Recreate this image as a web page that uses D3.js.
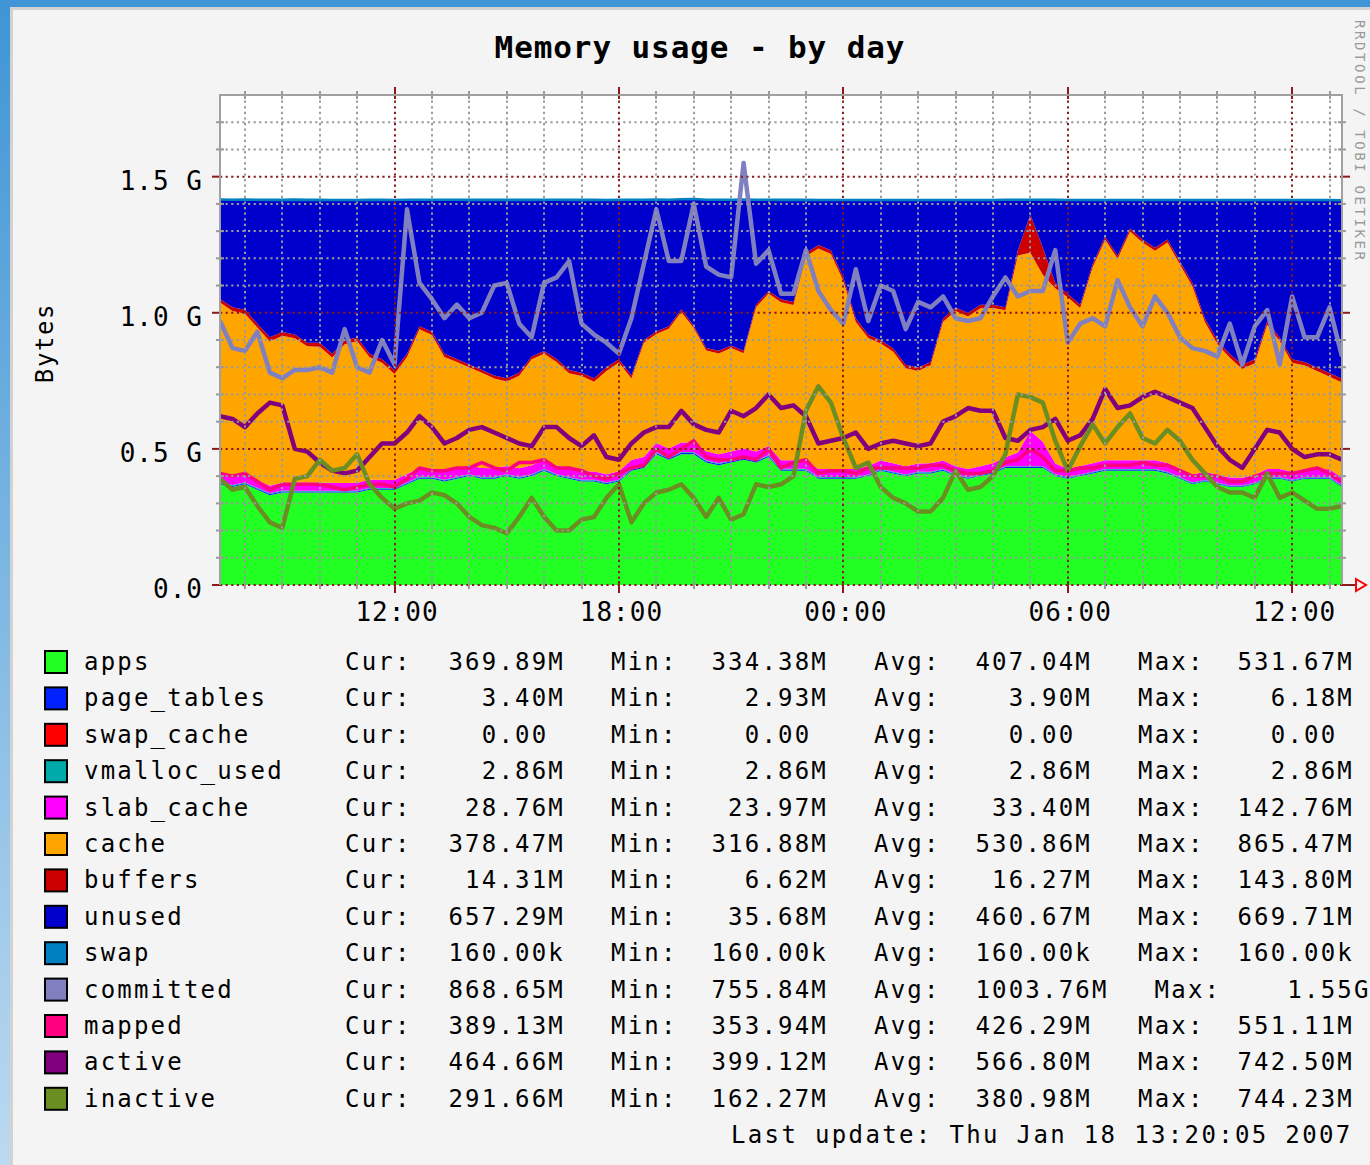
<!DOCTYPE html>
<html>
<head>
<meta charset="utf-8">
<script src="https://cdn.jsdelivr.net/npm/d3@7"></script>
<style>
  body { margin: 0; background: #fff; }
  svg { display: block; }
  text { font-family: "DejaVu Sans Mono", monospace; }
</style>
</head>
<body>
<svg id="chart"></svg>
<script>
// time axis: one sample every 20 minutes, Jan 17 07:20 -> Jan 18 13:20
const startTime = new Date(2007, 0, 17, 7, 20);
const endTime = new Date(2007, 0, 18, 13, 20);

// values in G (stacked areas)
const apps = [
  0.37,0.36,0.37,0.35,0.33,0.34,0.34,0.34,0.34,0.34,
  0.34,0.34,0.35,0.35,0.35,0.37,0.39,0.39,0.38,0.39,
  0.40,0.39,0.39,0.40,0.39,0.40,0.42,0.40,0.39,0.38,
  0.38,0.37,0.38,0.42,0.43,0.48,0.46,0.48,0.48,0.45,
  0.44,0.45,0.46,0.45,0.47,0.42,0.42,0.42,0.39,0.39,
  0.39,0.39,0.40,0.42,0.41,0.40,0.41,0.41,0.42,0.40,
  0.39,0.40,0.41,0.43,0.43,0.43,0.43,0.40,0.39,0.40,
  0.41,0.42,0.42,0.42,0.42,0.42,0.41,0.39,0.37,0.38,
  0.37,0.36,0.36,0.37,0.39,0.39,0.38,0.39,0.39,0.39,
  0.36];
const pageTables = [
  .0042,.0041,.0040,.0040,.0039,.0039,.0038,.0038,.0038,.0037,
  .0037,.0037,.0038,.0038,.0037,.0040,.0044,.0042,.0041,.0040,
  .0039,.0039,.0038,.0038,.0038,.0039,.0041,.0040,.0039,.0038,
  .0038,.0037,.0038,.0041,.0043,.0052,.0047,.0055,.0060,.0046,
  .0043,.0044,.0048,.0042,.0041,.0039,.0038,.0038,.0036,.0035,
  .0035,.0034,.0034,.0035,.0034,.0033,.0033,.0033,.0034,.0034,
  .0034,.0034,.0035,.0036,.0037,.0038,.0037,.0036,.0035,.0035,
  .0036,.0036,.0036,.0036,.0036,.0035,.0035,.0034,.0033,.0033,
  .0032,.0031,.0030,.0031,.0033,.0034,.0034,.0034,.0034,.0034,
  .0033];
const swapCache = [
  0,0,0,0,0,0,0,0,0,0, 0,0,0,0,0,0,0,0,0,0, 0,0,0,0,0,0,0,0,0,0,
  0,0,0,0,0,0,0,0,0,0, 0,0,0,0,0,0,0,0,0,0, 0,0,0,0,0,0,0,0,0,0,
  0,0,0,0,0,0,0,0,0,0, 0,0,0,0,0,0,0,0,0,0, 0,0,0,0,0,0,0,0,0,0,
  0];
const vmallocUsed = [
  .0028,.0028,.0028,.0028,.0028,.0028,.0028,.0028,.0028,.0028,
  .0028,.0028,.0028,.0028,.0028,.0028,.0028,.0028,.0028,.0028,
  .0028,.0028,.0028,.0028,.0028,.0028,.0028,.0028,.0028,.0028,
  .0028,.0028,.0028,.0028,.0028,.0028,.0028,.0028,.0028,.0028,
  .0028,.0028,.0028,.0028,.0028,.0028,.0028,.0028,.0028,.0028,
  .0028,.0028,.0028,.0028,.0028,.0028,.0028,.0028,.0028,.0028,
  .0028,.0028,.0028,.0028,.0028,.0028,.0028,.0028,.0028,.0028,
  .0028,.0028,.0028,.0028,.0028,.0028,.0028,.0028,.0028,.0028,
  .0028,.0028,.0028,.0028,.0028,.0028,.0028,.0028,.0028,.0028,
  .0028];
const slabCache = [
  0.031,0.030,0.030,0.029,0.028,0.029,0.030,0.030,0.029,0.029,
  0.028,0.029,0.030,0.030,0.029,0.031,0.032,0.031,0.031,0.032,
  0.032,0.033,0.032,0.031,0.032,0.033,0.033,0.032,0.031,0.031,
  0.030,0.030,0.031,0.032,0.033,0.034,0.034,0.035,0.035,0.034,
  0.033,0.033,0.034,0.033,0.034,0.032,0.032,0.031,0.030,0.030,
  0.030,0.030,0.031,0.031,0.031,0.030,0.030,0.031,0.031,0.030,
  0.030,0.030,0.031,0.033,0.050,0.130,0.090,0.040,0.031,0.031,
  0.031,0.032,0.032,0.032,0.032,0.032,0.032,0.031,0.030,0.030,
  0.029,0.029,0.028,0.029,0.030,0.030,0.030,0.030,0.030,0.029,
  0.028];
const cache = [
  0.63,0.61,0.59,0.56,0.53,0.54,0.53,0.50,0.50,0.46,
  0.51,0.52,0.45,0.43,0.39,0.43,0.51,0.49,0.42,0.39,
  0.36,0.35,0.33,0.31,0.34,0.39,0.39,0.38,0.35,0.35,
  0.33,0.38,0.40,0.30,0.42,0.40,0.44,0.48,0.42,0.37,
  0.37,0.38,0.35,0.53,0.56,0.58,0.57,0.75,0.81,0.79,
  0.69,0.54,0.47,0.43,0.41,0.36,0.34,0.36,0.51,0.57,
  0.56,0.58,0.57,0.54,0.7235,0.6535,0.6135,0.6435,0.63,0.58,
  0.72,0.81,0.74,0.84,0.80,0.77,0.81,0.75,0.69,0.55,
  0.48,0.44,0.40,0.41,0.53,0.47,0.40,0.38,0.36,0.34,
  0.35];
const buffers = [
  0.013,0.013,0.014,0.014,0.015,0.014,0.014,0.013,0.014,0.014,
  0.015,0.014,0.013,0.013,0.014,0.012,0.011,0.012,0.012,0.011,
  0.011,0.010,0.011,0.012,0.011,0.010,0.010,0.011,0.012,0.012,
  0.013,0.013,0.012,0.011,0.010,0.009,0.009,0.009,0.009,0.009,
  0.010,0.010,0.009,0.010,0.009,0.011,0.011,0.012,0.013,0.013,
  0.013,0.013,0.012,0.012,0.012,0.013,0.013,0.012,0.012,0.013,
  0.013,0.013,0.012,0.011,0.020,0.140,0.100,0.020,0.012,0.012,
  0.012,0.011,0.011,0.011,0.011,0.011,0.011,0.012,0.013,0.013,
  0.014,0.014,0.015,0.014,0.013,0.013,0.013,0.013,0.013,0.014,
  0.014];
const unused = [
  0.365,0.395,0.405,0.455,0.505,0.485,0.495,0.525,0.525,0.565,
  0.515,0.505,0.565,0.585,0.625,0.565,0.465,0.485,0.565,0.585,
  0.605,0.625,0.645,0.655,0.635,0.575,0.555,0.585,0.625,0.635,
  0.655,0.615,0.585,0.645,0.515,0.485,0.465,0.405,0.465,0.545,
  0.555,0.535,0.555,0.385,0.335,0.365,0.375,0.195,0.165,0.185,
  0.285,0.435,0.495,0.515,0.545,0.605,0.615,0.595,0.435,0.395,
  0.415,0.385,0.385,0.395,0.185,0.055,0.175,0.305,0.345,0.385,
  0.235,0.135,0.205,0.105,0.145,0.175,0.145,0.225,0.305,0.435,
  0.515,0.565,0.605,0.585,0.445,0.505,0.585,0.595,0.615,0.635,
  0.655];
const swap = [
  .00015,.00015,.00015,.00015,.00015,.00015,.00015,.00015,.00015,.00015,
  .00015,.00015,.00015,.00015,.00015,.00015,.00015,.00015,.00015,.00015,
  .00015,.00015,.00015,.00015,.00015,.00015,.00015,.00015,.00015,.00015,
  .00015,.00015,.00015,.00015,.00015,.00015,.00015,.00015,.00015,.00015,
  .00015,.00015,.00015,.00015,.00015,.00015,.00015,.00015,.00015,.00015,
  .00015,.00015,.00015,.00015,.00015,.00015,.00015,.00015,.00015,.00015,
  .00015,.00015,.00015,.00015,.00015,.00015,.00015,.00015,.00015,.00015,
  .00015,.00015,.00015,.00015,.00015,.00015,.00015,.00015,.00015,.00015,
  .00015,.00015,.00015,.00015,.00015,.00015,.00015,.00015,.00015,.00015,
  .00015];

// values in G (lines)
const committed = [
  0.97,0.87,0.86,0.93,0.78,0.76,0.79,0.79,0.80,0.78,
  0.94,0.80,0.78,0.90,0.81,1.38,1.11,1.05,0.98,1.03,
  0.98,1.00,1.10,1.11,0.96,0.91,1.11,1.13,1.19,0.96,
  0.92,0.89,0.85,0.98,1.18,1.38,1.19,1.19,1.40,1.17,
  1.14,1.13,1.55,1.18,1.23,1.07,1.07,1.23,1.08,1.01,
  0.96,1.16,0.97,1.10,1.08,0.94,1.04,1.02,1.06,0.98,
  0.97,0.98,1.06,1.13,1.06,1.08,1.08,1.23,0.89,0.96,
  0.98,0.95,1.12,1.02,0.95,1.06,1.00,0.91,0.87,0.86,
  0.84,0.96,0.81,0.95,1.01,0.81,1.06,0.91,0.91,1.02,
  0.84];
const mapped = [
  0.41,0.40,0.41,0.38,0.35,0.37,0.37,0.37,0.37,0.36,
  0.35,0.36,0.37,0.37,0.36,0.39,0.43,0.42,0.42,0.43,
  0.43,0.45,0.43,0.42,0.45,0.45,0.46,0.43,0.43,0.42,
  0.40,0.39,0.41,0.43,0.44,0.50,0.47,0.50,0.53,0.47,
  0.46,0.46,0.47,0.46,0.50,0.43,0.45,0.46,0.41,0.42,
  0.42,0.41,0.43,0.43,0.43,0.43,0.43,0.44,0.44,0.42,
  0.41,0.41,0.42,0.45,0.46,0.50,0.47,0.42,0.42,0.43,
  0.43,0.44,0.44,0.44,0.45,0.44,0.44,0.42,0.40,0.40,
  0.40,0.38,0.38,0.40,0.41,0.41,0.41,0.42,0.43,0.41,
  0.38];
const active = [
  0.62,0.61,0.58,0.63,0.67,0.66,0.50,0.49,0.45,0.42,
  0.41,0.42,0.47,0.52,0.52,0.56,0.62,0.58,0.52,0.54,
  0.57,0.58,0.56,0.54,0.52,0.51,0.58,0.58,0.54,0.51,
  0.55,0.47,0.46,0.52,0.56,0.58,0.58,0.64,0.59,0.57,
  0.56,0.64,0.62,0.65,0.70,0.65,0.66,0.62,0.52,0.53,
  0.54,0.56,0.50,0.52,0.53,0.52,0.51,0.52,0.60,0.62,
  0.65,0.64,0.64,0.54,0.53,0.57,0.58,0.61,0.53,0.55,
  0.61,0.72,0.65,0.66,0.69,0.71,0.69,0.67,0.65,0.58,
  0.51,0.46,0.43,0.50,0.57,0.56,0.50,0.47,0.48,0.48,
  0.46];
const inactive = [
  0.39,0.35,0.36,0.29,0.23,0.21,0.39,0.40,0.46,0.42,
  0.43,0.48,0.37,0.32,0.28,0.30,0.31,0.34,0.33,0.30,
  0.25,0.22,0.21,0.19,0.25,0.32,0.25,0.20,0.20,0.24,
  0.25,0.32,0.37,0.23,0.30,0.34,0.35,0.37,0.32,0.25,
  0.32,0.24,0.26,0.37,0.36,0.37,0.40,0.64,0.73,0.67,
  0.54,0.43,0.45,0.36,0.32,0.30,0.27,0.27,0.32,0.42,
  0.35,0.36,0.40,0.48,0.70,0.69,0.67,0.53,0.42,0.51,
  0.59,0.52,0.58,0.63,0.54,0.52,0.57,0.53,0.46,0.41,
  0.36,0.34,0.34,0.32,0.41,0.32,0.34,0.31,0.28,0.28,
  0.29];

// legend
const legendNames = ["apps","page_tables","swap_cache","vmalloc_used","slab_cache","cache",
  "buffers","unused","swap","committed","mapped","active","inactive"];
const legendColors = ["#22ff22","#0022ff","#ff0000","#00aaaa","#ff00ff","#ffa500",
  "#cc0000","#0000cc","#0080c0","#8080c0","#ff0080","#800080","#6b8e23"];
const curVals = ["369.89M","3.40M","0.00","2.86M","28.76M","378.47M","14.31M","657.29M",
  "160.00k","868.65M","389.13M","464.66M","291.66M"];
const minVals = ["334.38M","2.93M","0.00","2.86M","23.97M","316.88M","6.62M","35.68M",
  "160.00k","755.84M","353.94M","399.12M","162.27M"];
const avgVals = ["407.04M","3.90M","0.00","2.86M","33.40M","530.86M","16.27M","460.67M",
  "160.00k","1003.76M","426.29M","566.80M","380.98M"];
const maxVals = ["531.67M","6.18M","0.00","2.86M","142.76M","865.47M","143.80M","669.71M",
  "160.00k","1.55G","551.11M","742.50M","744.23M"];

const yTickValues = [0, 0.5, 1.0, 1.5];
const yTickLabels = ["0.0", "0.5 G", "1.0 G", "1.5 G"];

const width = 1370;
const height = 1165;
const plotLeft = 220, plotRight = 1342, plotTop = 95, plotBottom = 585;

const times = d3.timeMinute.every(20).range(startTime, d3.timeMinute.offset(endTime, 1));

const stackKeys = ["apps","page_tables","swap_cache","vmalloc_used","slab_cache","cache","buffers","unused","swap"];
const stackSource = {
  apps: apps, page_tables: pageTables, swap_cache: swapCache, vmalloc_used: vmallocUsed,
  slab_cache: slabCache, cache: cache, buffers: buffers, unused: unused, swap: swap
};
const colorOf = {};
legendNames.forEach((n, i) => colorOf[n] = legendColors[i]);

const table = times.map((t, i) => {
  const row = { time: t };
  stackKeys.forEach(k => row[k] = stackSource[k][i]);
  return row;
});

// scales
const x = d3.scaleTime([startTime, endTime], [plotLeft, plotRight]);
const y = d3.scaleLinear([0, 1.8], [plotBottom, plotTop]);

const svg = d3.select("#chart")
  .attr("width", width)
  .attr("height", height)
  .attr("viewBox", [0, 0, width, height]);

// background: blue page + grey panel
const defs = svg.append("defs");
const bgGrad = defs.append("linearGradient")
  .attr("id", "page-bg")
  .attr("x1", "0%").attr("y1", "0%").attr("x2", "0%").attr("y2", "100%");
bgGrad.append("stop").attr("offset", "0%").attr("stop-color", "#3f95d5");
bgGrad.append("stop").attr("offset", "100%").attr("stop-color", "#bcd9f0");

svg.append("rect").attr("width", width).attr("height", height).attr("fill", "url(#page-bg)");
svg.append("rect").attr("x", 10).attr("y", 7).attr("width", width).attr("height", height).attr("fill", "#d2d2d2");
svg.append("rect").attr("x", 13).attr("y", 10).attr("width", width).attr("height", height).attr("fill", "#f4f4f4");

defs.append("clipPath").attr("id", "plot-clip")
  .append("rect")
  .attr("x", plotLeft).attr("y", plotTop)
  .attr("width", plotRight - plotLeft).attr("height", plotBottom - plotTop);

svg.append("rect")
  .attr("x", plotLeft).attr("y", plotTop)
  .attr("width", plotRight - plotLeft).attr("height", plotBottom - plotTop)
  .attr("fill", "#ffffff");

const plot = svg.append("g").attr("clip-path", "url(#plot-clip)");

// stacked areas
const layers = d3.stack().keys(stackKeys)(table);
const area = d3.area()
  .x(d => x(d.data.time))
  .y0(d => y(d[0]))
  .y1(d => y(d[1]));

plot.selectAll(".layer")
  .data(layers)
  .join("path")
  .attr("class", "layer")
  .attr("d", area)
  .attr("fill", d => colorOf[d.key])
  .attr("stroke", d => d.key === "swap" ? colorOf.swap : "none")
  .attr("stroke-width", d => d.key === "swap" ? 2.5 : 0);

// lines
const lineSeries = [
  { key: "committed", values: committed, w: 4.5 },
  { key: "mapped", values: mapped, w: 3.5 },
  { key: "active", values: active, w: 4.5 },
  { key: "inactive", values: inactive, w: 4.5 }
];
const line = d3.line()
  .x((d, i) => x(times[i]))
  .y(d => y(d));

plot.selectAll(".line")
  .data(lineSeries)
  .join("path")
  .attr("class", "line")
  .attr("d", d => line(d.values))
  .attr("fill", "none")
  .attr("stroke", d => colorOf[d.key])
  .attr("stroke-width", d => d.w)
  .attr("stroke-linejoin", "round");

// grid (drawn over the data, rrdtool style)
const minorColor = "#9a9a9a";
const majorColor = "#8b1a1a";
const grid = svg.append("g");
const hLevels = d3.range(1, 18).map(v => v / 10);
hLevels.forEach(v => {
  const major = Math.abs(v * 2 - Math.round(v * 2)) < 1e-9;
  grid.append("line")
    .attr("x1", plotLeft).attr("x2", plotRight)
    .attr("y1", y(v)).attr("y2", y(v))
    .attr("stroke", major ? majorColor : minorColor)
    .attr("stroke-width", 2)
    .attr("stroke-dasharray", "2.2,3.4");
  // ticks on both sides
  grid.append("line")
    .attr("x1", major ? plotLeft - 8 : plotLeft - 4).attr("x2", plotLeft + (major ? 0 : 4))
    .attr("y1", y(v)).attr("y2", y(v))
    .attr("stroke", major ? majorColor : minorColor).attr("stroke-width", 2);
  grid.append("line")
    .attr("x1", plotRight - (major ? 0 : 4)).attr("x2", plotRight + (major ? 8 : 4))
    .attr("y1", y(v)).attr("y2", y(v))
    .attr("stroke", major ? majorColor : minorColor).attr("stroke-width", 2);
});
grid.append("line")
  .attr("x1", plotLeft).attr("x2", plotRight)
  .attr("y1", y(0)).attr("y2", y(0))
  .attr("stroke", majorColor).attr("stroke-width", 2)
  .attr("stroke-dasharray", "2.2,3.4");
grid.append("line")
  .attr("x1", plotLeft - 8).attr("x2", plotLeft)
  .attr("y1", y(0)).attr("y2", y(0))
  .attr("stroke", majorColor).attr("stroke-width", 2);

const hours = d3.timeHour.range(d3.timeHour.ceil(startTime), endTime);
hours.forEach(h => {
  const major = h.getHours() % 6 === 0;
  const xx = Math.round(x(h));
  grid.append("line")
    .attr("x1", xx).attr("x2", xx)
    .attr("y1", plotTop).attr("y2", plotBottom)
    .attr("stroke", major ? majorColor : minorColor)
    .attr("stroke-width", 2)
    .attr("stroke-dasharray", "2.2,3.4");
  grid.append("line")
    .attr("x1", xx).attr("x2", xx)
    .attr("y1", major ? plotTop - 8 : plotTop - 4).attr("y2", plotTop + 4)
    .attr("stroke", major ? majorColor : minorColor).attr("stroke-width", 2);
  grid.append("line")
    .attr("x1", xx).attr("x2", xx)
    .attr("y1", plotBottom - 4).attr("y2", plotBottom + (major ? 8 : 4))
    .attr("stroke", major ? majorColor : minorColor).attr("stroke-width", 2);
});

// frame
svg.append("path")
  .attr("d", `M${plotLeft},${plotBottom}V${plotTop}H${plotRight}V${plotBottom}`)
  .attr("fill", "none")
  .attr("stroke", "#a0a0a0")
  .attr("stroke-width", 2);

// x arrow
svg.append("line")
  .attr("x1", plotRight).attr("x2", plotRight + 14)
  .attr("y1", plotBottom).attr("y2", plotBottom)
  .attr("stroke", majorColor).attr("stroke-width", 2);
svg.append("path")
  .attr("d", `M${plotRight + 14},${plotBottom - 6}L${plotRight + 24},${plotBottom}L${plotRight + 14},${plotBottom + 6}Z`)
  .attr("fill", "none")
  .attr("stroke", "#ff0000")
  .attr("stroke-width", 2);

// axes labels
const xAxis = svg.append("g")
  .attr("transform", `translate(0,${plotBottom})`)
  .call(d3.axisBottom(x)
    .tickValues(hours.filter(h => h.getHours() % 6 === 0))
    .tickFormat(d3.timeFormat("%H:%M"))
    .tickSize(0)
    .tickPadding(0));
xAxis.select(".domain").remove();
xAxis.selectAll(".tick text")
  .attr("y", 36)
  .attr("dy", null)
  .attr("dx", 2)
  .attr("fill", "#000")
  .style("font-family", "'DejaVu Sans Mono', monospace")
  .style("font-size", "26px")
  .style("letter-spacing", "1px");

const yAxis = svg.append("g")
  .attr("transform", `translate(${plotLeft},0)`)
  .call(d3.axisLeft(y)
    .tickValues(yTickValues)
    .tickFormat((d, i) => yTickLabels[i])
    .tickSize(0)
    .tickPadding(17));
yAxis.select(".domain").remove();
yAxis.selectAll(".tick text")
  .attr("dy", 12.5)
  .attr("fill", "#000")
  .style("font-family", "'DejaVu Sans Mono', monospace")
  .style("font-size", "26px")
  .style("letter-spacing", "1px");

svg.append("text")
  .attr("transform", "translate(53,343) rotate(-90)")
  .attr("text-anchor", "middle")
  .style("font-size", "24px")
  .style("letter-spacing", "1.6px")
  .attr("fill", "#000")
  .text("Bytes");

// title
svg.append("text")
  .attr("x", 700).attr("y", 58)
  .attr("text-anchor", "middle")
  .style("font-size", "31px")
  .style("font-weight", "bold")
  .style("letter-spacing", "0.9px")
  .attr("fill", "#000")
  .text("Memory usage - by day");

// vertical watermark
svg.append("text")
  .attr("transform", "translate(1355,20) rotate(90)")
  .style("font-size", "14px")
  .style("letter-spacing", "2.6px")
  .attr("fill", "#9a9a9a")
  .text("RRDTOOL / TOBI OETIKER");

// legend
const cw = 16.6;
const rowStep = 36.4;
const legend = svg.append("g")
  .style("font-size", "24px")
  .style("letter-spacing", "2.2px")
  .attr("fill", "#000");

legendNames.forEach((name, i) => {
  const by = 670 + i * rowStep;
  legend.append("rect")
    .attr("x", 45).attr("y", by - 19)
    .attr("width", 22).attr("height", 22)
    .attr("fill", legendColors[i])
    .attr("stroke", "#000")
    .attr("stroke-width", 2);
  legend.append("text").attr("x", 84).attr("y", by).text(name);

  const fields = [
    { label: "Cur:", lx: 345, ex: 563, v: curVals[i] },
    { label: "Min:", lx: 611, ex: 826, v: minVals[i] },
    { label: "Avg:", lx: 874, ex: 1090, v: avgVals[i] },
    { label: "Max:", lx: 1138, ex: 1352, v: maxVals[i] }
  ];
  let shift = 0;
  fields.forEach(f => {
    legend.append("text").attr("x", f.lx + shift).attr("y", by).text(f.label);
    const over = Math.max(0, f.v.length - 7);
    shift += over * cw;
    const hasUnit = /[a-zA-Z]$/.test(f.v);
    legend.append("text")
      .attr("x", f.ex + shift - (hasUnit ? 0 : cw) + 2)
      .attr("y", by)
      .attr("text-anchor", "end")
      .text(f.v);
  });
});

legend.append("text")
  .attr("x", 731).attr("y", 670 + 13 * rowStep)
  .style("letter-spacing", "2.35px")
  .text("Last update: Thu Jan 18 13:20:05 2007");
</script>
</body>
</html>
